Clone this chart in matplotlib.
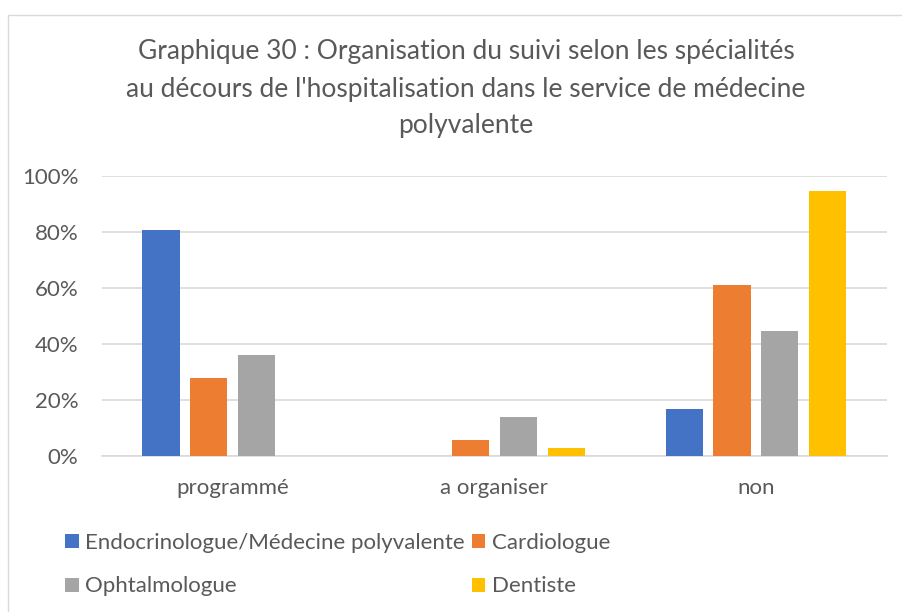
import matplotlib.pyplot as plt
from matplotlib.patches import Rectangle, Patch
from matplotlib.ticker import PercentFormatter
import numpy as np

plt.rcParams["font.family"] = ["Lato", "DejaVu Sans"]

categories = ["programmé", "a organiser", "non"]
series_names = ["Endocrinologue/Médecine polyvalente", "Cardiologue", "Ophtalmologue", "Dentiste"]
endocrino = [80.6, 0.0, 16.7]
cardio = [27.8, 5.6, 61.1]
ophtalmo = [36.1, 13.9, 44.4]
dentiste = [0.0, 2.8, 94.4]
series_values = [endocrino, cardio, ophtalmo, dentiste]
colors = ["#4472C4", "#ED7D31", "#A5A5A5", "#FFC000"]

text_color = "#595959"
grid_color = "#D9D9D9"

fig = plt.figure(figsize=(9.03, 6.12), dpi=100)
ax = fig.add_axes([0.113, 0.2554, 0.869, 0.4575])

# chart frame
fig.patches.append(Rectangle((8 / 903, -0.1), 1.2, 1.1 - 15 / 612, transform=fig.transFigure,
                             fill=False, edgecolor="#D9D9D9", linewidth=1.0))

x = np.arange(len(categories))
step = 0.183
width = 0.142
for i, (vals, col) in enumerate(zip(series_values, colors)):
    offset = (i - 1.5) * step
    ax.bar(x + offset, np.array(vals) / 100, width=width, color=col, zorder=3)

ax.set_xlim(-0.5, 2.5)
ax.set_ylim(0, 1)
ax.set_yticks(np.arange(0, 1.01, 0.2))
ax.yaxis.set_major_formatter(PercentFormatter(1.0, decimals=0))
ax.set_xticks(x)
ax.set_xticklabels(categories)
ax.tick_params(axis="both", length=0, labelsize=16, colors=text_color)
ax.tick_params(axis="y", pad=17)
ax.tick_params(axis="x", pad=16)
ax.grid(axis="y", color=grid_color, linewidth=1.2, zorder=0)
for side in ["top", "right", "left"]:
    ax.spines[side].set_visible(False)
ax.spines["bottom"].set_color(grid_color)
ax.spines["bottom"].set_linewidth(1.2)

fig.text(0.516, 1 - 89 / 612,
         "Graphique 30 : Organisation du suivi selon les spécialités\n"
         "au décours de l'hospitalisation dans le service de médecine\n"
         "polyvalente",
         ha="center", va="center", fontsize=19, color=text_color, linespacing=1.6)

order = [0, 2, 1, 3]
handles = [Patch(facecolor=colors[i]) for i in order]
labels = [series_names[i] for i in order]
fig.legend(handles, labels, loc="upper left", bbox_to_anchor=(0.060, 1 - 522 / 612), ncol=2,
           frameon=False, fontsize=16, labelcolor=text_color, handlelength=0.6, handleheight=0.6,
           handletextpad=0.3, columnspacing=0.3, labelspacing=1.05, borderpad=0)

fig.savefig("out.png", dpi=100)
